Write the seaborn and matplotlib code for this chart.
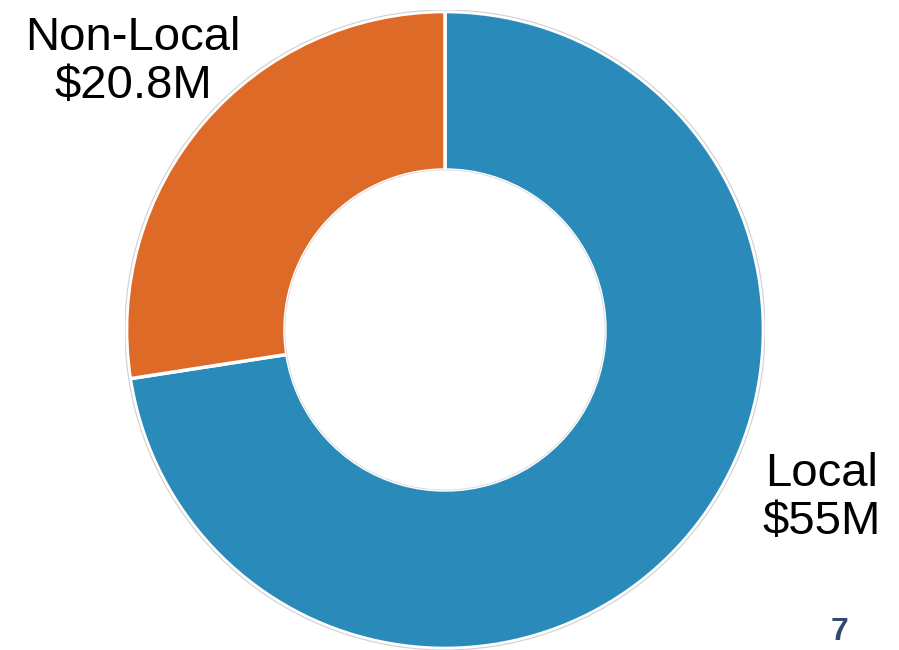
import matplotlib
matplotlib.use("Agg")
import matplotlib.pyplot as plt
import seaborn as sns

sns.set_theme(style="white")
plt.rcParams["font.family"] = ["Liberation Sans", "DejaVu Sans"]

categories = ["Local", "Non-Local"]
values = [55.0, 20.8]
labels = ["Local\n$55M", "Non-Local\n$20.8M"]
colors = ["#2a8bbb", "#de6a27"]

W, H = 899, 650
fig = plt.figure(figsize=(W / 100, H / 100), dpi=100)
fig.patch.set_facecolor("white")

# donut occupies a square region, centre near (445, 330) px
R = 320
cx, cy = 445, 330
ax = fig.add_axes([(cx - R) / W, (H - cy - R) / H, 2 * R / W, 2 * R / H])

wedges, _ = ax.pie(
    values,
    colors=colors,
    startangle=90,
    counterclock=False,
    radius=0.995,
    wedgeprops=dict(width=0.495, edgecolor="white", linewidth=2.5),
)
# faint outline around the ring
ax.add_patch(plt.Circle((0, 0), 1.0, fill=False, edgecolor="#d0d0d0", linewidth=0.8))
ax.add_patch(plt.Circle((0, 0), 0.5, fill=False, edgecolor="#d8d8d8", linewidth=0.6))

ax.set_xlim(-1.0, 1.0)
ax.set_ylim(-1.0, 1.0)
ax.set_aspect("equal")
ax.axis("off")

fig.text(822 / W, 1 - 498 / H, labels[0], ha="center", va="center",
         fontsize=34, color="black", linespacing=1.12)
fig.text(133 / W, 1 - 62 / H, labels[1], ha="center", va="center",
         fontsize=34, color="black", linespacing=1.12)
fig.text(840 / W, 1 - 632 / H, "7", ha="center", va="center",
         fontsize=23, fontweight="bold", color="#2f4a6a")

fig.savefig("out.png", dpi=100, facecolor="white")
